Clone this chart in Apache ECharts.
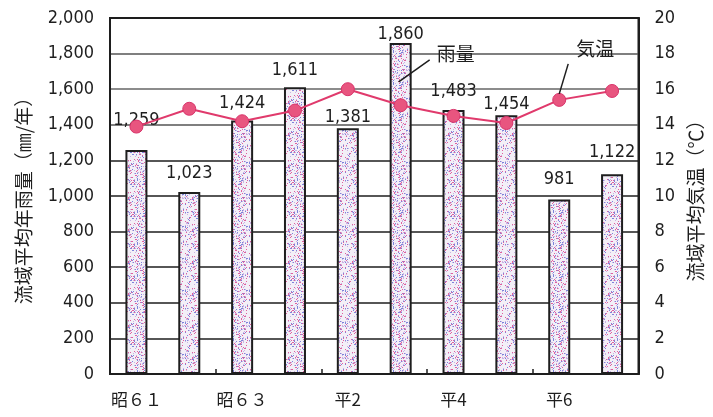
<!DOCTYPE html>
<html>
<head>
<meta charset="utf-8">
<script src="https://cdn.jsdelivr.net/npm/echarts@6/dist/echarts.min.js"></script>
<style>
  html, body { margin: 0; padding: 0; background: #fff; }
  #chart { width: 713px; height: 417px; }
</style>
</head>
<body>
<div id="chart"></div>
<script>
// Fiscal years (Showa 61 – Heisei 7)
const years = ['昭６１', '昭６２', '昭６３', '平元', '平2', '平3', '平4', '平5', '平6', '平7'];
// Basin-average annual rainfall (mm/year)
const rainfall = [1259, 1023, 1424, 1611, 1381, 1860, 1483, 1454, 981, 1122];
// Basin-average air temperature (°C)
const temperature = [13.9, 14.9, 14.2, 14.8, 16.0, 15.1, 14.5, 14.1, 15.4, 15.9];
// Axis ranges
const rainAxis = { min: 0, max: 2000, step: 200 };
const tempAxis = { min: 0, max: 20, step: 2 };
// Series names used for the callouts
const rainName = '雨量';
const tempName = '気温';

const NUM_FONT = '"DejaVu Sans Condensed", "DejaVu Sans", sans-serif';
const JP_FONT = '"Noto Sans CJK JP", "Noto Sans", sans-serif';
const INK = '#1e1e1e';
const RED = '#e03a6c';

// Stippled pink/blue fill for the bars (fixed hash texture, no randomness)
function stipple() {
  const c = document.createElement('canvas');
  const n = 32;
  c.width = n; c.height = n;
  const g = c.getContext('2d');
  g.fillStyle = '#f3eff7';
  g.fillRect(0, 0, n, n);
  for (let i = 0; i < n; i++) {
    for (let j = 0; j < n; j++) {
      const h = Math.abs(Math.sin(i * 12.9898 + j * 78.233) * 43758.5453) % 1;
      if (h < 0.07) g.fillStyle = '#e0609e';
      else if (h < 0.14) g.fillStyle = '#7d84da';
      else if (h < 0.24) g.fillStyle = '#c9b3e2';
      else continue;
      g.fillRect(i, j, 1, 1);
    }
  }
  return c;
}

// Gap between each bar top and its value label
const labelGap = [21, 10, 8, 8, 2, 0, 10, 2, 11, 13];

const fmt = v => Number(v).toLocaleString('en-US');

const chart = echarts.init(document.getElementById('chart'));
const barFill = { image: stipple(), repeat: 'repeat' };

chart.setOption({
  animation: false,
  grid: {
    left: 110, right: 68, top: 18, bottom: 43,
    show: true, borderColor: INK, borderWidth: 2
  },
  xAxis: {
    type: 'category',
    data: years,
    boundaryGap: true,
    axisLine: { lineStyle: { color: INK, width: 2 } },
    axisTick: { show: true, inside: true, length: 5, lineStyle: { color: INK, width: 1.5 } },
    axisLabel: {
      interval: 1, margin: 17, color: INK,
      fontFamily: JP_FONT, fontSize: 17
    }
  },
  yAxis: [
    {
      type: 'value', position: 'left',
      min: rainAxis.min, max: rainAxis.max, interval: rainAxis.step,
      name: '流域平均年雨量（㎜/年）',
      nameLocation: 'middle', nameRotate: 90, nameGap: 77,
      nameTextStyle: { fontFamily: JP_FONT, fontSize: 19, color: INK },
      axisLine: { show: true, lineStyle: { color: INK, width: 2 } },
      axisTick: { show: false },
      axisLabel: {
        formatter: fmt, margin: 16, color: INK,
        fontFamily: NUM_FONT, fontSize: 18
      },
      splitLine: {
        show: true,
        lineStyle: {
          color: [INK, INK, INK, INK, INK, INK, INK, '#555', '#666', '#555', INK],
          width: 1.5
        }
      }
    },
    {
      type: 'value', position: 'right',
      min: tempAxis.min, max: tempAxis.max, interval: tempAxis.step,
      name: '流域平均気温（℃）',
      nameLocation: 'middle', nameRotate: 90, nameGap: 42,
      nameTextStyle: { fontFamily: JP_FONT, fontSize: 19, color: INK },
      axisLine: { show: true, lineStyle: { color: INK, width: 2 } },
      axisTick: { show: false },
      axisLabel: {
        margin: 16, color: INK,
        fontFamily: NUM_FONT, fontSize: 18
      },
      splitLine: { show: false }
    }
  ],
  series: [
    {
      name: rainName,
      type: 'bar',
      yAxisIndex: 0,
      barWidth: 22,
      z: 2,
      data: rainfall.map((v, i) => ({
        value: v,
        label: { distance: labelGap[i] }
      })),
      itemStyle: { color: barFill, borderColor: INK, borderWidth: 2 },
      label: {
        show: true, position: 'top',
        formatter: p => fmt(p.value),
        color: INK, fontFamily: NUM_FONT, fontSize: 18
      }
    },
    {
      name: tempName,
      type: 'line',
      yAxisIndex: 1,
      z: 5,
      data: temperature,
      symbol: 'circle',
      symbolSize: 13,
      lineStyle: { color: RED, width: 2 },
      itemStyle: { color: '#e8557f', borderColor: '#d8336a', borderWidth: 1 }
    }
  ]
});

// Callouts naming the two series
const rainTop = chart.convertToPixel({ xAxisIndex: 0, yAxisIndex: 0 }, [5, rainfall[5]]);
const tempPt = chart.convertToPixel({ xAxisIndex: 0, yAxisIndex: 1 }, [8, temperature[8]]);
chart.setOption({
  graphic: [
    {
      type: 'line', z: 10,
      shape: { x1: rainTop[0] + 29, y1: rainTop[1] + 17, x2: rainTop[0] - 2, y2: rainTop[1] + 39 },
      style: { stroke: INK, lineWidth: 1.5 }
    },
    {
      type: 'text', z: 10,
      x: rainTop[0] + 55, y: rainTop[1] + 11,
      style: {
        text: rainName, fill: INK, font: '19px ' + JP_FONT,
        align: 'center', verticalAlign: 'middle'
      }
    },
    {
      type: 'line', z: 10,
      shape: { x1: tempPt[0] + 9, y1: tempPt[1] - 36, x2: tempPt[0], y2: tempPt[1] - 6 },
      style: { stroke: INK, lineWidth: 1.5 }
    },
    {
      type: 'text', z: 10,
      x: tempPt[0] + 36, y: tempPt[1] - 51,
      style: {
        text: tempName, fill: INK, font: '19px ' + JP_FONT,
        align: 'center', verticalAlign: 'middle'
      }
    }
  ]
});
</script>
</body>
</html>
